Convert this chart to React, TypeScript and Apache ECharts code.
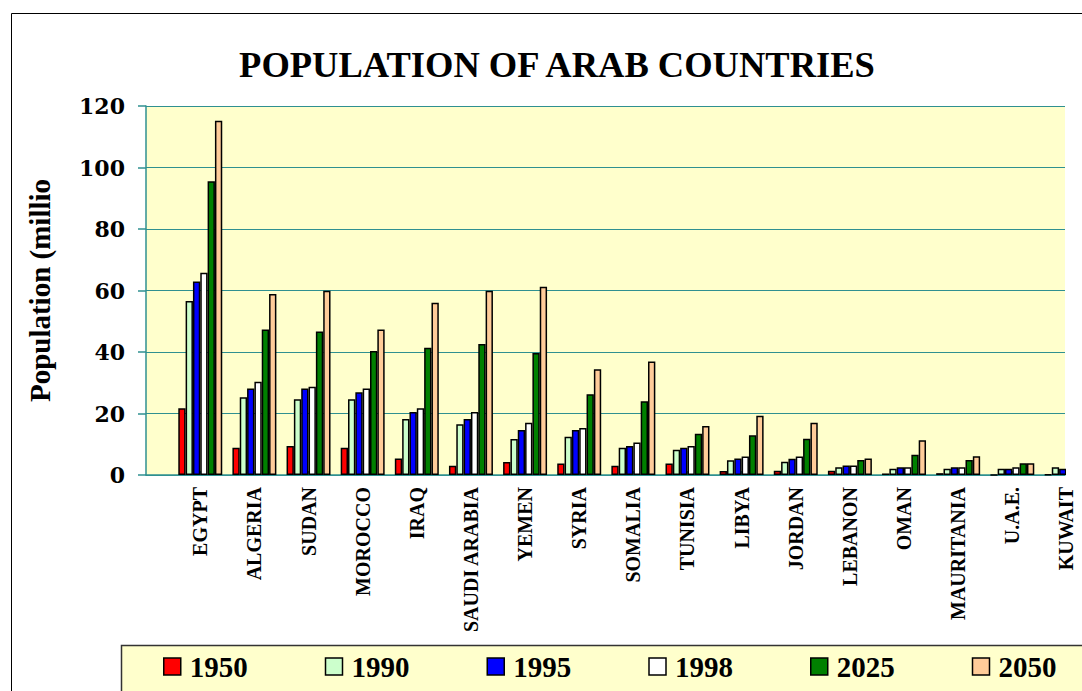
import React, { useEffect, useRef } from "react";
import * as echarts from "echarts";

const categories = [
  "EGYPT", "ALGERIA", "SUDAN", "MOROCCO", "IRAQ", "SAUDI ARABIA", "YEMEN", "SYRIA",
  "SOMALIA", "TUNISIA", "LIBYA", "JORDAN", "LEBANON", "OMAN", "MAURITANIA", "U.A.E.", "KUWAIT",
];

const years = ["1950", "1990", "1995", "1998", "2025", "2050"];

const v1950 = [21.7, 8.9, 9.4, 8.9, 5.4, 3.0, 4.2, 3.7, 3.0, 3.7, 1.3, 1.4, 1.4, 0.5, 0.6, 0.07, 0.15];
const v1990 = [56.6, 25.3, 24.6, 24.6, 18.2, 16.5, 11.7, 12.4, 8.9, 8.2, 4.8, 4.3, 2.5, 2.0, 2.0, 2.0, 2.5];
const v1995 = [62.9, 28.1, 28.1, 26.9, 20.5, 18.2, 14.6, 14.6, 9.4, 8.9, 5.4, 5.3, 3.1, 2.5, 2.5, 2.0, 2.0];
const v1998 = [65.8, 30.3, 28.7, 28.1, 21.7, 20.5, 17.0, 15.3, 10.6, 9.4, 6.0, 6.0, 3.1, 2.5, 2.5, 2.5, 1.9];
const v2025 = [95.5, 47.3, 46.7, 40.3, 41.4, 42.6, 39.7, 26.3, 24.0, 13.4, 12.9, 11.8, 4.9, 6.6, 4.9, 3.8, 2.9];
const v2050 = [115.2, 58.9, 59.9, 47.3, 56.0, 59.9, 61.2, 34.4, 36.9, 15.9, 19.3, 17.0, 5.4, 11.3, 6.1, 3.8, 3.3];

const seriesValues = [v1950, v1990, v1995, v1998, v2025, v2050];
const seriesColors = ["#FF0000", "#CCFFCC", "#0000FF", "#FFFFFF", "#008000", "#FFCC99"];

const yTicks = { min: 0, max: 120, interval: 20 };

const SERIF = "'Liberation Serif', 'Times New Roman', serif";
const WIDE_SERIF = "'DejaVu Serif', 'Liberation Serif', serif";
const TEAL = "#2F9090";

export default function App() {
  const ref = useRef<HTMLDivElement>(null);

  useEffect(() => {
    document.body.style.margin = "0";
    if (!ref.current) return;
    const chart = echarts.init(ref.current, undefined, { renderer: "svg" });

    const option: any = {
      animation: false,
      backgroundColor: "#FFFFFF",
      title: {
        text: "POPULATION OF ARAB COUNTRIES",
        left: 552,
        top: 41,
        textAlign: "center",
        textStyle: { fontFamily: SERIF, fontWeight: "bold", fontSize: 36.5, color: "#000" },
      },
      legend: {
        data: years,
        left: 158,
        top: 647,
        itemWidth: 17,
        itemHeight: 17,
        itemGap: 77,
        icon: "rect",
        itemStyle: { borderColor: "#000", borderWidth: 1.5 },
        textStyle: {
          fontFamily: SERIF,
          fontWeight: "bold",
          fontSize: 29,
          color: "#000",
          padding: [0, 0, 0, 4],
        },
      },
      graphic: [
        {
          type: "rect",
          silent: true,
          z: 0,
          shape: { x: 121.5, y: 645.5, width: 1000, height: 100 },
          style: { fill: "#FFFFCC", stroke: "#333", lineWidth: 1.5 },
        },
        {
          type: "rect",
          silent: true,
          z: 100,
          shape: { x: 1066, y: 100, width: 40, height: 376 },
          style: { fill: "#FFFFFF" },
        },
        {
          type: "rect",
          silent: true,
          z: 101,
          shape: { x: 11.5, y: 13.5, width: 1200, height: 1000 },
          style: { fill: "none", stroke: "#000", lineWidth: 1 },
        },
      ],
      grid: [
        {
          left: 146,
          top: 106,
          width: 919,
          height: 369,
          show: true,
          backgroundColor: "#FFFFCC",
          borderWidth: 0,
          outerBoundsMode: "none",
          containLabel: false,
        },
        {
          left: 173.2,
          top: 106,
          width: 920.3,
          height: 369,
          outerBoundsMode: "none",
          containLabel: false,
        },
      ],
      xAxis: [
        {
          gridIndex: 0,
          type: "value",
          min: 0,
          max: 1,
          axisLine: { show: true, lineStyle: { color: TEAL, width: 1.5 } },
          axisTick: { show: false },
          axisLabel: { show: false },
          splitLine: { show: false },
        },
        {
          gridIndex: 1,
          type: "category",
          data: categories,
          axisLine: { show: false },
          axisTick: { show: true, inside: true, alignWithLabel: true, length: 4, lineStyle: { color: TEAL } },
          axisLabel: {
            interval: 0,
            rotate: 90,
            margin: 12,
            fontFamily: SERIF,
            fontWeight: "bold",
            fontSize: 20,
            color: "#000",
          },
        },
      ],
      yAxis: [
        {
          gridIndex: 0,
          type: "value",
          min: yTicks.min,
          max: yTicks.max,
          interval: yTicks.interval,
          name: "Population (millio",
          nameLocation: "middle",
          nameRotate: 90,
          nameGap: 92,
          nameTextStyle: { fontFamily: SERIF, fontWeight: "bold", fontSize: 29, color: "#000" },
          axisLine: { show: true, lineStyle: { color: TEAL, width: 1.5 } },
          axisTick: { show: true, length: 8, lineStyle: { color: TEAL, width: 1.5 } },
          axisLabel: {
            margin: 21,
            fontFamily: WIDE_SERIF,
            fontWeight: "bold",
            fontSize: 22,
            color: "#000",
          },
          splitLine: { show: true, lineStyle: { color: TEAL, width: 1 } },
        },
        {
          gridIndex: 1,
          type: "value",
          min: yTicks.min,
          max: yTicks.max,
          show: false,
          splitLine: { show: false },
        },
      ],
      series: years.map((y, i) => ({
        name: y,
        type: "bar",
        xAxisIndex: 1,
        yAxisIndex: 1,
        data: seriesValues[i],
        barWidth: 7.33,
        barGap: "0%",
        itemStyle: { color: seriesColors[i], borderColor: "#000", borderWidth: 1.5 },
      })),
    };

    chart.setOption(option);
    return () => chart.dispose();
  }, []);

  return <div ref={ref} style={{ width: 1082, height: 691 }} />;
}
